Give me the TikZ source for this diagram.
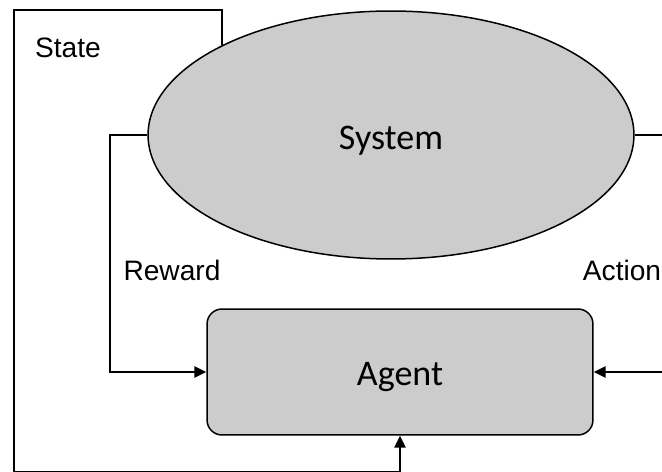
\documentclass[tikz,border=0pt]{standalone}
\usepackage{fontspec}
\setmainfont{Liberation Sans}
\newfontfamily\calibri{Carlito}
\usepackage{tikz}
\usetikzlibrary{arrows.meta}
\usetikzlibrary{shapes.geometric}

\begin{document}
\begin{tikzpicture}[x=0.02cm, y=-0.02cm, line width=0.85pt]
			\tikzstyle{blob}=[ellipse, fill=black!20, draw=black, minimum width=9.72cm, minimum height=4.96cm, inner sep=0pt]
			\tikzstyle{box}=[rectangle, rounded corners=0.3cm, fill=black!20, draw=black, minimum width=7.72cm, minimum height=2.52cm]
			\tikzstyle{blocktext}=[font=\calibri\fontsize{20.5}{24}\selectfont, yshift=-0.11cm]
			\tikzstyle{annot}=[font=\fontsize{16}{18}\selectfont]
			\tikzstyle{link}=[-{Triangle[length=2.4mm, width=2.3mm]}]
			
			\useasboundingbox (0,0) rectangle (662,472);
			
			% Draw the two blocks
			\node[blob, label={[blocktext]center:System}] (sys) at (391,135) {};
			\node[box, label={[blocktext]center:Agent}] (agent) at (400,372) {};
			
			% Corner points of the loops
			\coordinate (stl) at (14,10);
			\coordinate (sbl) at (14,471.6);
			\coordinate (rl) at (110,250);
			\coordinate (ar) at (690,250);
			
			% Draw arrows
			\draw[link] (sys.152.9) |- (stl) -- (sbl) -| (agent.south);
			\draw[link] (sys.west) -| (rl) |- (agent.west);
			\draw[link] (sys.east) -| (ar) |- (agent.east);
			
			% Labels
			\node[annot] (state) at (68,48) {State};
			\node[annot] (reward) at (172,270) {Reward};
			\node[annot] (action) at (622,270) {Action};
			
		\end{tikzpicture}
\end{document}
